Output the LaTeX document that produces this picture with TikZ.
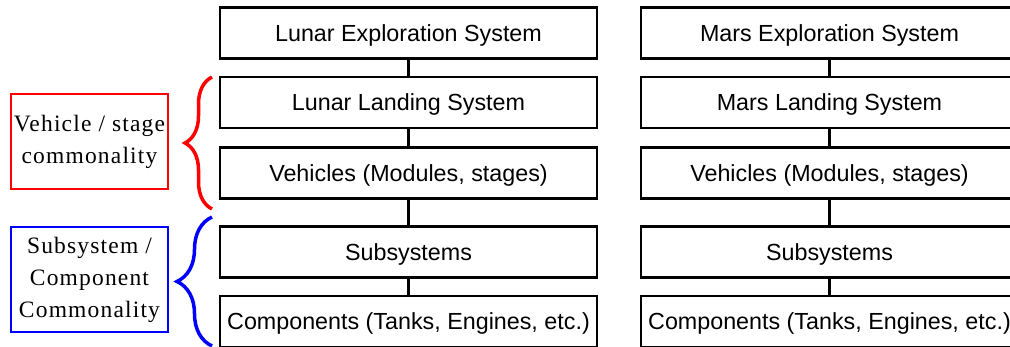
\documentclass[tikz,border=0pt]{standalone}
\usepackage{fontspec}
\setmainfont{Liberation Serif}
\newfontfamily\boxfont{Liberation Sans}
\usetikzlibrary{decorations.pathreplacing}

\begin{document}
\begin{tikzpicture}[x=1pt, y=-1pt,
  level/.style={draw, line width=2.5pt, minimum width=377pt, minimum height=51pt,
    inner sep=0pt, text height=16.7pt, text depth=0pt,
    font=\boxfont\fontsize{23.3}{28}\selectfont},
  link/.style={line width=2.5pt},
  tag/.style={draw=#1, line width=2pt, minimum width=157pt, inner sep=0pt,
    align=center, font=\fontsize{23.5}{32}\selectfont\addfontfeatures{LetterSpace=5}},
  grouping/.style={decorate, decoration={brace, amplitude=#1}, line width=3.5pt}]
  % page: 1010 x 347, right column runs off the edge
  \clip (0,0) rectangle (1010,347);

  % Lunar breakdown
  \node[level] (lunarexp)  at (408.5,33)    {Lunar Exploration System};
  \node[level] (lunarland) at (408.5,102.5) {Lunar Landing System};
  \node[level] (lunarveh)  at (408.5,173)   {Vehicles (Modules, stages)};
  \node[level] (lunarsub)  at (408.5,252)   {Subsystems};
  \node[level] (lunarcomp) at (408.5,321.5) {Components (Tanks, Engines, etc.)};

  % Mars breakdown
  \node[level] (marsexp)  at (829.5,33)    {Mars Exploration System};
  \node[level] (marsland) at (829.5,102.5) {Mars Landing System};
  \node[level] (marsveh)  at (829.5,173)   {Vehicles (Modules, stages)};
  \node[level] (marssub)  at (829.5,252)   {Subsystems};
  \node[level] (marscomp) at (829.5,321.5) {Components (Tanks, Engines, etc.)};

  % Tree links
  \foreach \a/\b in {lunarexp/lunarland, lunarland/lunarveh, lunarveh/lunarsub,
                     lunarsub/lunarcomp, marsexp/marsland, marsland/marsveh,
                     marsveh/marssub, marssub/marscomp} {
    \draw[link] (\a.south) -- (\b.north);
  }

  % Commonality levels
  \node[tag=red, minimum height=95pt]   (vehtag) at (89.5,141.5) {Vehicle / stage\\commonality};
  \node[tag=blue, minimum height=105pt] (subtag) at (89.5,279.5) {Subsystem /\\Component\\Commonality};

  % Braces
  \draw[grouping=27, red]  (212,209) -- (212,77);
  \draw[grouping=35, blue] (212,346) -- (212,217);
\end{tikzpicture}
\end{document}
